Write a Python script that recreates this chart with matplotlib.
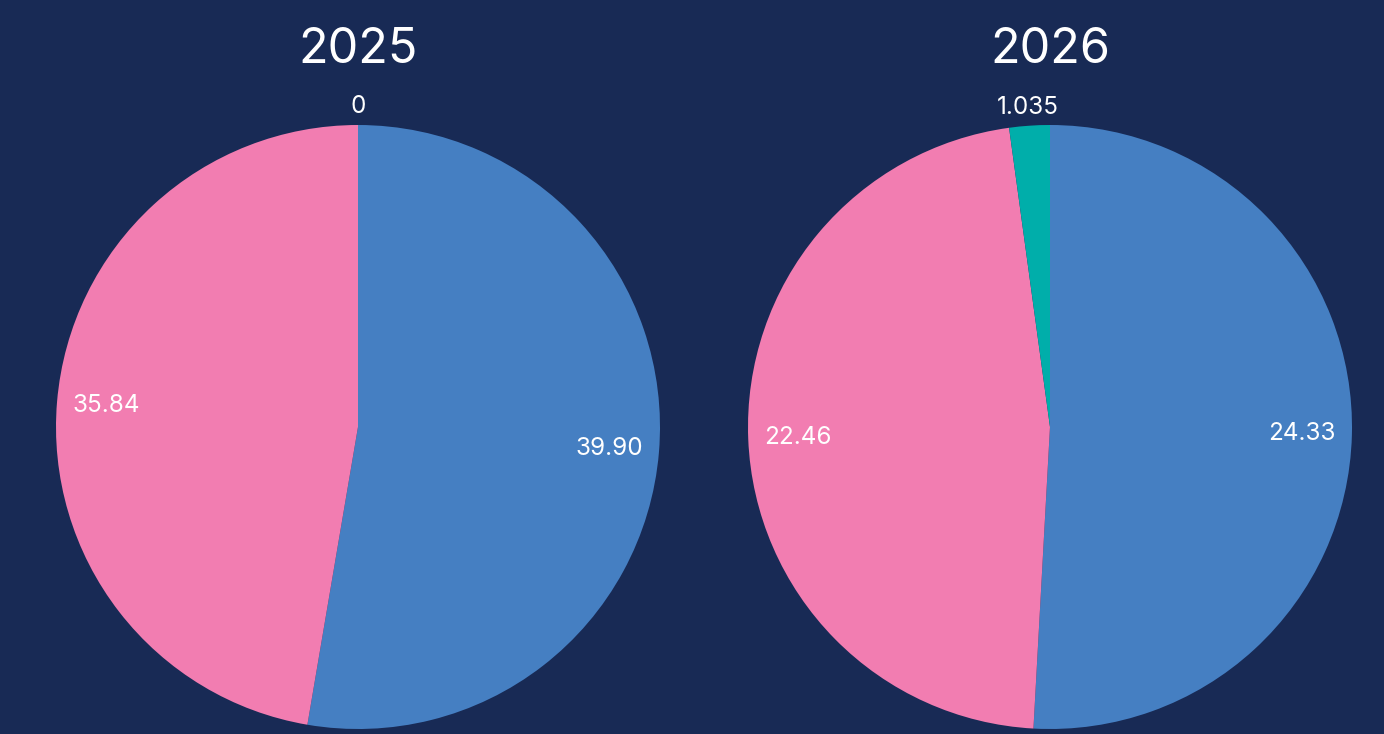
import numpy as np
import matplotlib
matplotlib.use('Agg')
import matplotlib.pyplot as plt

plt.rcParams['font.family'] = ['Inter', 'DejaVu Sans']

years = ['2025', '2026']
series = ['blue', 'pink', 'teal']
values_2025 = [39.90, 35.84, 0]
values_2026 = [24.33, 22.46, 1.035]
labels_2025 = ['39.90', '35.84', '0']
labels_2026 = ['24.33', '22.46', '1.035']

bg = '#182a55'
colors = ['#457fc2', '#f27db1', '#00aeaa']

W, H = 1384, 734
fig = plt.figure(figsize=(W / 100, H / 100), dpi=100, facecolor=bg)


def draw_pie(cx, cy, r, vals, labs, title):
    ax = fig.add_axes([(cx - r) / W, 1 - (cy + r) / H, 2 * r / W, 2 * r / H])
    ax.set_facecolor(bg)
    ax.axis('off')
    ax.pie(vals, colors=colors, startangle=90, counterclock=False,
           radius=1, wedgeprops=dict(linewidth=0))
    ax.set_xlim(-1, 1)
    ax.set_ylim(-1, 1)
    ax.set_aspect('equal')
    total = sum(vals)
    start = 0
    for v, lab in zip(vals, labs):
        frac = v / total
        mid = np.deg2rad(90 - (start + frac / 2) * 360)
        start += frac
        if frac < 0.05:
            d = 1.06
        else:
            d = 0.835
        ax.text(d * np.cos(mid), d * np.sin(mid), lab, ha='center', va='center',
                color='white', fontsize=17.5, clip_on=False)
    fig.text(cx / W, 1 - 63 / H, title, ha='center', va='baseline', color='white', fontsize=35)


draw_pie(358, 427, 302, values_2025, labels_2025, years[0])
draw_pie(1050, 427, 302, values_2026, labels_2026, years[1])

fig.savefig('out.png', facecolor=bg)
